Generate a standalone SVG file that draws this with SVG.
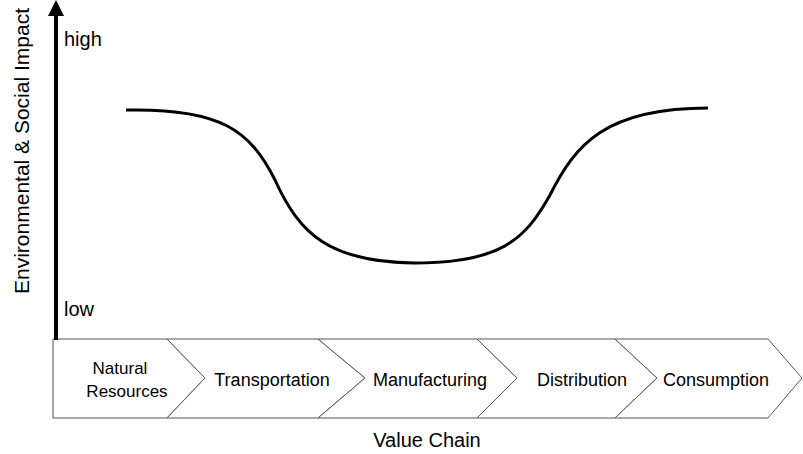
<svg xmlns="http://www.w3.org/2000/svg" width="803" height="454" viewBox="0 0 803 454">
<style>
text{font-family:"Liberation Sans",Arial,sans-serif;font-size:18px;fill:#000}
.c{text-anchor:middle}
.s{font-size:17px}
.ax{font-size:20px}
.yl{font-size:21px}
.chev{fill:#fff;stroke:#555;stroke-width:1}
</style>
<defs>
<marker id="ah" markerWidth="4" markerHeight="4" refX="2" refY="2" orient="auto" markerUnits="strokeWidth">
<path d="M0,0 L4,2 L0,4 z" fill="#000"/>
</marker>
</defs>
<rect width="803" height="454" fill="#fff"/>
<g id="chevrons">
<g id="n1"><path class="chev" d="M53,339 L167,339 L205,378 L167,418 L53,418 Z"/><text class="c s" x="120" y="374">Natural</text><text class="c s" x="127" y="397">Resources</text></g>
<g id="n2"><path class="chev" d="M167,339 L318,339 L365,378 L318,418 L167,418 L205,378 Z"/><text class="c" x="272" y="386">Transportation</text></g>
<g id="n3"><path class="chev" d="M318,339 L477,339 L517,378 L477,418 L318,418 L365,378 Z"/><text class="c" x="430" y="386">Manufacturing</text></g>
<g id="n4"><path class="chev" d="M477,339 L615,339 L657,378 L615,418 L477,418 L517,378 Z"/><text class="c" x="582" y="386">Distribution</text></g>
<g id="n5"><path class="chev" d="M615,339 L768,339 L802,378 L768,418 L615,418 L657,378 Z"/><text class="c" x="716" y="386">Consumption</text></g>
</g>
<g id="connectors">
<line x1="56" y1="340" x2="56" y2="8" stroke="#000" stroke-width="4" marker-end="url(#ah)"/>
<path d="M126,110 C220,108 250,130 275,180 C300,235 330,262 415,263 C500,263 525,240 550,195 C575,145 605,108 708,108" fill="none" stroke="#000" stroke-width="3"/>
</g>
<text class="ax" x="64" y="46">high</text>
<text class="ax" x="64" y="316">low</text>
<text class="c ax" x="427" y="447">Value Chain</text>
<text class="c yl" transform="translate(29,151) rotate(-90)">Environmental &amp; Social Impact</text>
</svg>
